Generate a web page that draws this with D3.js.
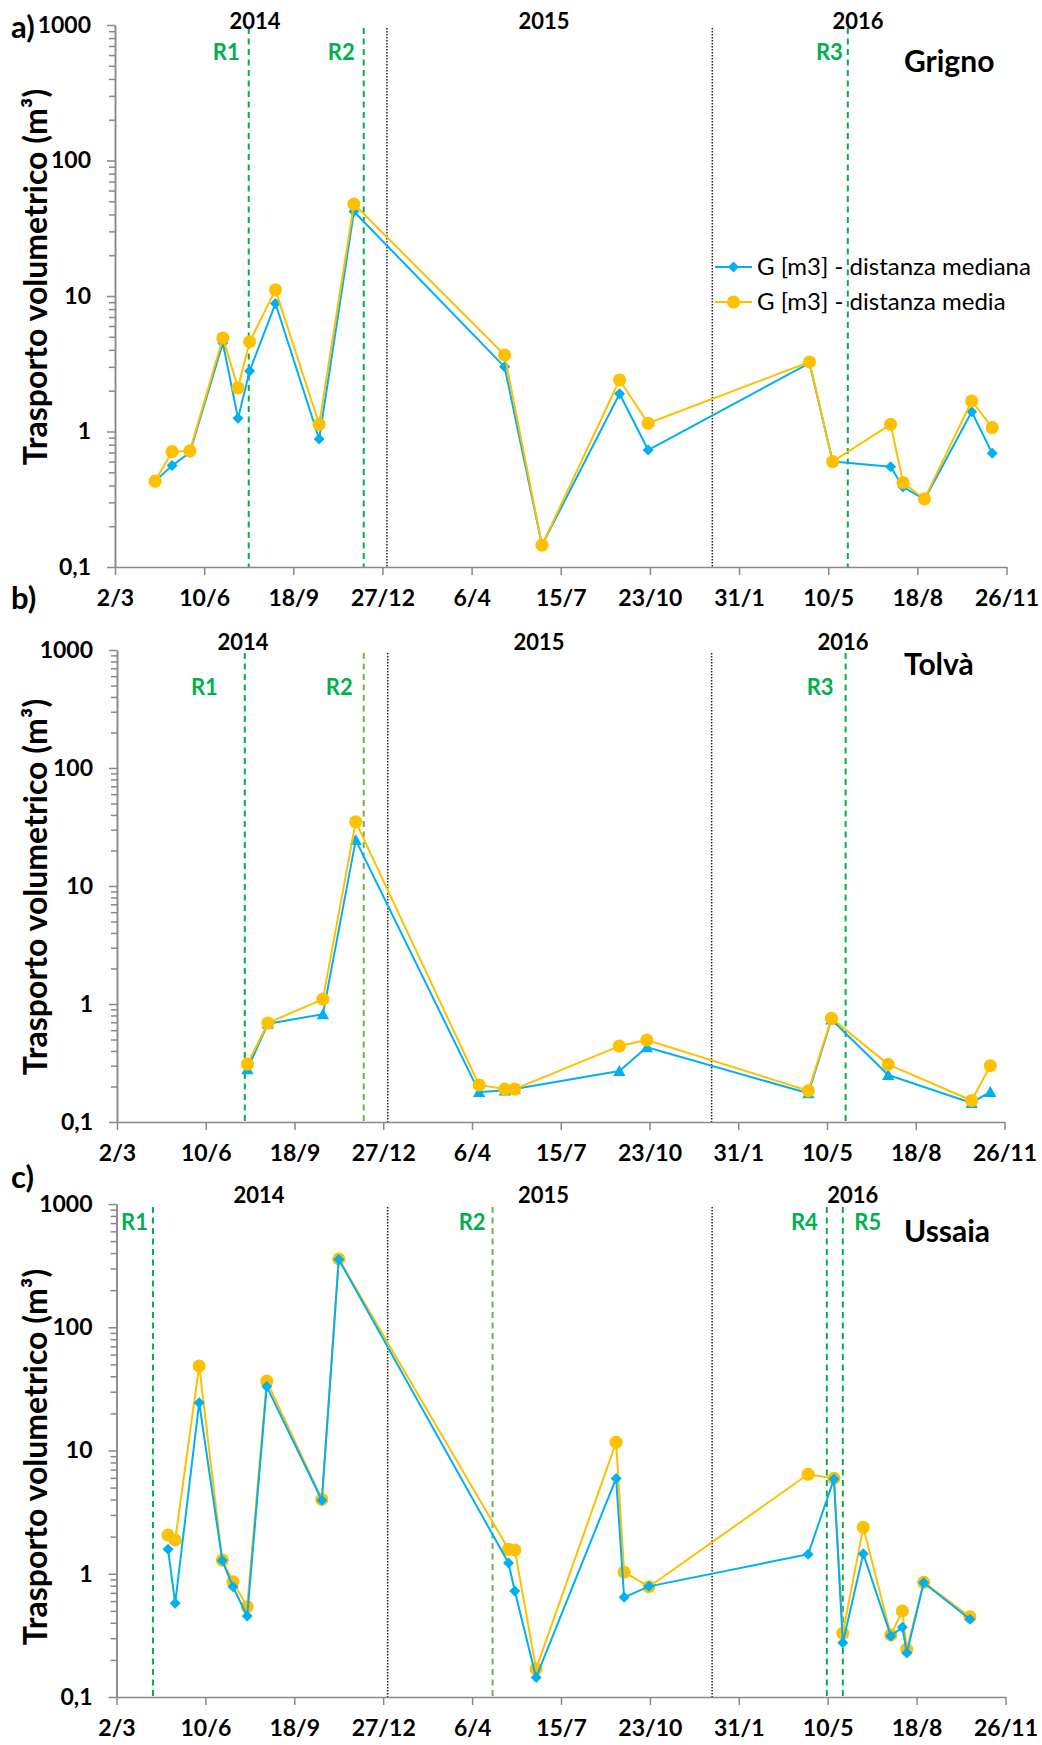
<!DOCTYPE html>
<html>
<head>
<meta charset="utf-8">
<script src="https://cdn.jsdelivr.net/npm/d3@7"></script>
<style>
  body { margin: 0; background: #fff; }
  text { font-family: Lato, "Open Sans", sans-serif; }
</style>
</head>
<body>
<div id="chart-area"></div>
<script>
// three log-scale panels, sediment transport per event

const WIDTH = 1042;
const HEIGHT = 1745;

// x axis: Excel date axis, one tick every 100 days
const xTickDates = ["2014-03-02", "2014-06-10", "2014-09-18", "2014-12-27", "2015-04-06", "2015-07-15",
    "2015-10-23", "2016-01-31", "2016-05-10", "2016-08-18", "2016-11-26"];
const yTickValues = [0.1, 1, 10, 100, 1000];
const yTickLabels = ["0,1", "1", "10", "100", "1000"];
const yearLabels = ["2014", "2015", "2016"];
const yearBreaks = ["2015-01-01", "2016-01-01"];
const seriesNames = ["G [m3] - distanza mediana", "G [m3] - distanza media"];

// a) Grigno
const grignoDates = ["2014-04-16", "2014-05-05", "2014-05-25", "2014-07-01", "2014-07-18", "2014-07-31", "2014-08-29",
    "2014-10-17", "2014-11-25", "2015-05-13", "2015-06-24", "2015-09-19", "2015-10-21", "2016-04-19", "2016-05-15",
    "2016-07-19", "2016-08-02", "2016-08-26", "2016-10-18", "2016-11-10"];
const grignoMediana = [0.43, 0.56, 0.70, 4.5, 1.25, 2.8, 8.8, 0.88, 42, 3.0, 0.145, 1.9, 0.73, 3.2, 0.60, 0.55, 0.39, 0.315, 1.40, 0.69];
const grignoMedia = [0.43, 0.71, 0.72, 4.9, 2.1, 4.6, 11.1, 1.13, 47.7, 3.67, 0.145, 2.4, 1.15, 3.26, 0.60, 1.13, 0.42, 0.318, 1.68, 1.07];
const grignoEvents = ["R1", "R2", "R3"];
const grignoEventDates = ["2014-07-30", "2014-12-06", "2016-06-01"];

// b) Tolvà
const tolvaDates = ["2014-07-27", "2014-08-19", "2014-10-20", "2014-11-26", "2015-04-14", "2015-05-13", "2015-05-24",
    "2015-09-19", "2015-10-20", "2016-04-19", "2016-05-15", "2016-07-18", "2016-10-20", "2016-11-10"];
const tolvaMediana = [0.28, 0.68, 0.82, 24.5, 0.18, 0.185, 0.19, 0.27, 0.43, 0.175, 0.74, 0.25, 0.145, 0.18];
const tolvaMedia = [0.31, 0.69, 1.10, 35, 0.206, 0.19, 0.19, 0.44, 0.495, 0.184, 0.757, 0.308, 0.152, 0.30];
const tolvaEvents = ["R1", "R2", "R3"];
const tolvaEventDates = ["2014-07-24", "2014-12-05", "2016-05-31"];

// c) Ussaia
const ussaiaDates = ["2014-04-29", "2014-05-07", "2014-06-03", "2014-06-29", "2014-07-11", "2014-07-27", "2014-08-18",
    "2014-10-19", "2014-11-07", "2015-05-17", "2015-05-24", "2015-06-17", "2015-09-15", "2015-09-24", "2015-10-22",
    "2016-04-18", "2016-05-17", "2016-05-27", "2016-06-19", "2016-07-20", "2016-08-02", "2016-08-07", "2016-08-26", "2016-10-17"];
const ussaiaMediana = [1.58, 0.575, 24.4, 1.28, 0.785, 0.454, 33, 3.95, 355, 1.22, 0.725, 0.144, 5.94, 0.644, 0.79,
    1.44, 5.86, 0.276, 1.45, 0.313, 0.368, 0.227, 0.845, 0.427];
const ussaiaMedia = [2.06, 1.88, 48.5, 1.29, 0.862, 0.54, 36.6, 4.02, 358, 1.58, 1.56, 0.169, 11.65, 1.03, 0.785,
    6.41, 5.94, 0.329, 2.38, 0.319, 0.499, 0.244, 0.853, 0.448];
const ussaiaEvents = ["R1", "R2", "R4", "R5"];
const ussaiaEventDates = ["2014-04-12", "2015-04-29", "2016-05-09", "2016-05-27"];

const BLUE = "#00B0F0";
const ORANGE = "#FFC000";
const GREEN = "#00B050";
const OLIVE = "#70B244";
const AXIS = "#898989";

const parseDate = d3.utcParse("%Y-%m-%d");

let visSvg = d3.select("#chart-area").append("svg")
    .attr("width", WIDTH)
    .attr("height", HEIGHT);

// layout of each panel (pixels), data comes from the arrays above
let panels = [
    { letter: "a)", site: "Grigno", dates: grignoDates, mediana: grignoMediana, media: grignoMedia,
      events: grignoEvents, eventDates: grignoEventDates, eventColors: [GREEN, GREEN, GREEN], eventDx: [-9, -9, -5],
      marker: "diamond", blueOnTop: false, legend: true,
      top: 25, bottom: 567, left: 115, right: 1006.5, titleY: 277, letterY: 38,
      yearX: [255, 544, 858], yearY: 29, eventY: 60, siteY: 72 },
    { letter: "b)", site: "Tolvà", dates: tolvaDates, mediana: tolvaMediana, media: tolvaMedia,
      events: tolvaEvents, eventDates: tolvaEventDates, eventColors: [GREEN, OLIVE, GREEN], eventDx: [-27, -11, -12],
      marker: "triangle", blueOnTop: false, legend: false,
      top: 650, bottom: 1122, left: 117, right: 1004.5, titleY: 887, letterY: 609,
      yearX: [243, 539, 843], yearY: 650, eventY: 695, siteY: 675 },
    { letter: "c)", site: "Ussaia", dates: ussaiaDates, mediana: ussaiaMediana, media: ussaiaMedia,
      events: ussaiaEvents, eventDates: ussaiaEventDates, eventColors: [GREEN, OLIVE, GREEN, GREEN], eventDx: [-5, -7, -9, 11.5],
      marker: "diamond", blueOnTop: true, legend: false,
      top: 1204, bottom: 1697, left: 116.5, right: 1005.5, titleY: 1457, letterY: 1188,
      yearX: [259, 543.5, 852.7], yearY: 1203, eventY: 1230, siteY: 1242 }
];

const markerPaths = {
    diamond: "M0,-5.5L5.5,0L0,5.5L-5.5,0Z",
    triangle: "M0,-6L6.2,5L-6.2,5Z",
    circle: d3.symbol(d3.symbolCircle, 135)()
};

// minor ticks 2..9 inside each decade
let minorTicks = [];
yTickValues.slice(0, -1).forEach(d => {
    for (let k = 2; k <= 9; k++) minorTicks.push(d * k);
});

function drawPanel(p) {
    let x = d3.scaleUtc()
        .domain([parseDate(xTickDates[0]), parseDate(xTickDates[xTickDates.length - 1])])
        .range([p.left, p.right]);
    let y = d3.scaleLog()
        .domain([yTickValues[0], yTickValues[yTickValues.length - 1]])
        .range([p.bottom, p.top]);

    let g = visSvg.append("g");

    // year separators (dotted)
    g.selectAll(".year-break")
        .data(yearBreaks)
        .enter().append("line")
        .attr("x1", d => x(parseDate(d)))
        .attr("x2", d => x(parseDate(d)))
        .attr("y1", p.top + 3)
        .attr("y2", p.bottom)
        .attr("stroke", "#222")
        .attr("stroke-width", 1.5)
        .attr("stroke-dasharray", "1.5,1.5");

    // R events, green dashed
    g.selectAll(".event-line")
        .data(p.eventDates)
        .enter().append("line")
        .attr("x1", d => x(parseDate(d)))
        .attr("x2", d => x(parseDate(d)))
        .attr("y1", p.top + 3)
        .attr("y2", p.bottom)
        .attr("stroke", (d, i) => p.eventColors[i])
        .attr("stroke-width", 2)
        .attr("stroke-dasharray", "6,4.5");

    g.selectAll(".event-label")
        .data(p.events)
        .enter().append("text")
        .text(d => d)
        .attr("x", (d, i) => x(parseDate(p.eventDates[i])) + p.eventDx[i])
        .attr("y", p.eventY)
        .attr("text-anchor", (d, i) => p.eventDx[i] < 0 ? "end" : "start")
        .attr("font-size", 22)
        .attr("font-weight", "bold")
        .attr("fill", GREEN);

    // axes
    let xAxis = g.append("g")
        .attr("transform", `translate(0,${p.bottom})`)
        .call(d3.axisBottom(x)
            .tickValues(xTickDates.map(parseDate))
            .tickFormat(d3.utcFormat("%-d/%-m"))
            .tickSize(8)
            .tickSizeOuter(0));
    xAxis.selectAll("text")
        .attr("y", 39)
        .attr("dy", null);

    let yMinor = g.append("g")
        .attr("transform", `translate(${p.left},0)`)
        .call(d3.axisLeft(y).tickValues(minorTicks).tickFormat("").tickSize(6).tickSizeOuter(0));

    let yAxis = g.append("g")
        .attr("transform", `translate(${p.left},0)`)
        .call(d3.axisLeft(y)
            .tickValues(yTickValues)
            .tickFormat((d, i) => yTickLabels[i])
            .tickSize(8)
            .tickPadding(16)
            .tickSizeOuter(0));

    [xAxis, yMinor, yAxis].forEach(a => {
        a.attr("font-family", null).attr("font-size", null);
        a.selectAll("line, path").attr("stroke", AXIS).attr("stroke-width", 1.5);
        a.selectAll("text")
            .attr("font-size", 23)
            .attr("font-weight", "bold")
            .attr("fill", "#000");
    });

    // series lines + markers
    let pts = p.dates.map((d, i) => ({ date: parseDate(d), mediana: p.mediana[i], media: p.media[i] }));
    let series = [
        { key: "mediana", color: BLUE, marker: p.marker },
        { key: "media", color: ORANGE, marker: "circle" }
    ];
    if (p.blueOnTop) series.reverse();

    let line = key => d3.line().x(d => x(d.date)).y(d => y(d[key]));

    series.forEach(s => {
        g.append("path")
            .datum(pts)
            .attr("fill", "none")
            .attr("stroke", s.color)
            .attr("stroke-width", 2)
            .attr("stroke-linejoin", "round")
            .attr("d", line(s.key));
        g.selectAll(".m-" + s.key)
            .data(pts)
            .enter().append("path")
            .attr("class", "m-" + s.key)
            .attr("d", markerPaths[s.marker])
            .attr("transform", d => `translate(${x(d.date)},${y(d[s.key])})`)
            .attr("fill", s.color);
    });

    // year labels on top
    g.selectAll(".year-label")
        .data(yearLabels)
        .enter().append("text")
        .text(d => d)
        .attr("x", (d, i) => p.yearX[i])
        .attr("y", p.yearY)
        .attr("text-anchor", "middle")
        .attr("font-size", 22)
        .attr("font-weight", "bold");

    g.append("text")
        .text(p.site)
        .attr("x", 904)
        .attr("y", p.siteY)
        .attr("font-size", 30)
        .attr("font-weight", "bold");

    g.append("text")
        .text(p.letter)
        .attr("x", 11)
        .attr("y", p.letterY)
        .attr("font-size", 31)
        .attr("font-weight", "bold");

    g.append("text")
        .text("Trasporto volumetrico (m³)")
        .attr("transform", `translate(47,${p.titleY}) rotate(-90)`)
        .attr("text-anchor", "middle")
        .attr("font-size", 32)
        .attr("font-weight", "bold");

    if (p.legend) {
        let leg = g.append("g").attr("transform", "translate(715,267)");
        let legItems = [
            { name: seriesNames[0], color: BLUE, marker: p.marker },
            { name: seriesNames[1], color: ORANGE, marker: "circle" }
        ];
        legItems.forEach((it, i) => {
            let row = leg.append("g").attr("transform", `translate(0,${i * 35})`);
            row.append("line")
                .attr("x1", 0).attr("x2", 37)
                .attr("stroke", it.color).attr("stroke-width", 2);
            row.append("path")
                .attr("d", markerPaths[it.marker])
                .attr("transform", "translate(18.5,0)")
                .attr("fill", it.color);
            row.append("text")
                .text(it.name)
                .attr("x", 42)
                .attr("y", 7.5)
                .attr("font-size", 24);
        });
    }
}

panels.forEach(drawPanel);
</script>
</body>
</html>
